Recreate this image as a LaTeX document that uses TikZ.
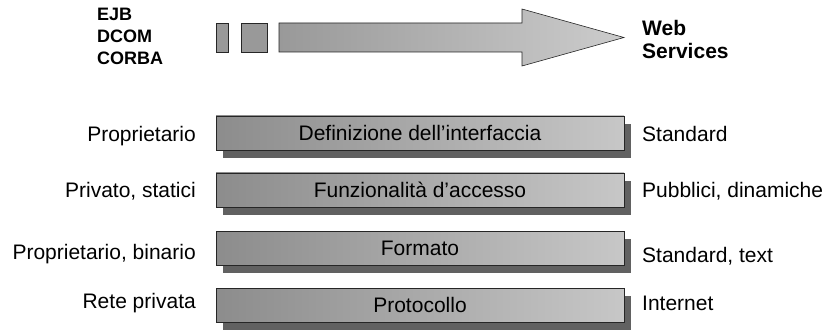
\documentclass[tikz,border=0pt]{standalone}
\usepackage{fontspec}
\setmainfont{Liberation Sans}
\usetikzlibrary{shadows}
\begin{document}
\begin{tikzpicture}[x=1pt,y=-1pt,
  layerbox/.style={draw=black!85, line width=0.8pt, left color=black!45, right color=black!22,
    minimum width=408pt, minimum height=34pt, inner sep=0pt,
    font=\fontsize{21}{25}\selectfont,
    general shadow={fill=black!62, shadow xshift=7pt, shadow yshift=-8pt}},
  lbl/.style={font=\fontsize{21}{25}\selectfont, inner sep=0pt},
  techlbl/.style={font=\fontsize{18}{22}\selectfont\bfseries, inner sep=0pt, anchor=base west},
  wslbl/.style={font=\fontsize{21}{25}\selectfont\bfseries, inner sep=0pt, anchor=base west},
  smallrect/.style={draw=black!85, line width=0.8pt, fill=black!40},
  bigarrow/.style={draw=black!85, line width=0.6pt, left color=black!40, right color=black!20}]
\useasboundingbox (0,0) rectangle (829,331);

% top arrow
\draw[smallrect] (216,23) rectangle (228,52);
\draw[smallrect] (241,23) rectangle (267,52);
\coordinate (a1) at (279,23);
\coordinate (a2) at (522,23);
\coordinate (a3) at (522,9);
\coordinate (tip) at (624,37.5);
\coordinate (a5) at (522,66);
\coordinate (a6) at (522,52);
\coordinate (a7) at (279,52);
\draw[bigarrow] (a1) -- (a2) -- (a3) -- (tip) -- (a5) -- (a6) -- (a7) -- cycle;

\node[techlbl] (ejb) at (97,21) {EJB};
\node[techlbl] (dcom) at (97,43) {DCOM};
\node[techlbl] (corba) at (97,65) {CORBA};
\node[wslbl] (web) at (642,36) {Web};
\node[wslbl] (serv) at (642,59) {Services};

% layers
\node[layerbox] (l1) at (420,133) {Definizione dell’interfaccia};
\node[layerbox] (l2) at (420,190) {Funzionalità d’accesso};
\node[layerbox] (l3) at (420,248) {Formato};
\node[layerbox] (l4) at (420,305) {Protocollo};

% left labels
\node[lbl, anchor=base east] (p1) at (196,142) {Proprietario};
\node[lbl, anchor=base east] (p2) at (196,197) {Privato, statici};
\node[lbl, anchor=base east] (p3) at (196,259) {Proprietario, binario};
\node[lbl, anchor=base east] (p4) at (196,308) {Rete privata};

% right labels
\node[lbl, anchor=base west] (s1) at (642,142) {Standard};
\node[lbl, anchor=base west] (s2) at (642,197) {Pubblici, dinamiche};
\node[lbl, anchor=base west] (s3) at (642,262) {Standard, text};
\node[lbl, anchor=base west] (s4) at (642,310) {Internet};
\end{tikzpicture}
\end{document}
